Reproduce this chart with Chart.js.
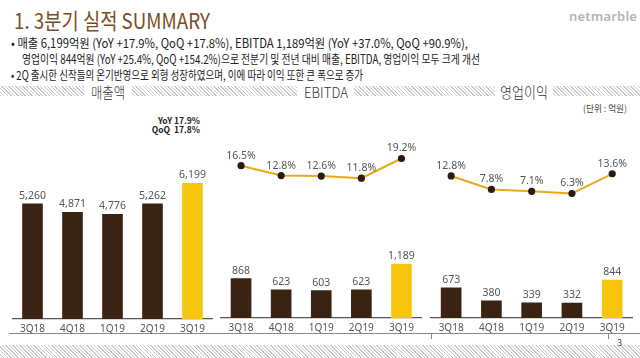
<!DOCTYPE html>
<html><head><meta charset="utf-8">
<script src="https://cdn.jsdelivr.net/npm/chart.js@4.4.1/dist/chart.umd.min.js"></script>
<style>
html,body{margin:0;padding:0;background:#fff;}
body{width:640px;height:358px;position:relative;overflow:hidden;font-family:"Noto Sans CJK KR","Noto Sans",sans-serif;}
.abs{position:absolute;white-space:nowrap;transform-origin:0 50%;}
#title{left:14px;top:4px;font-size:21.5px;color:#7c4d23;}
#logo{left:569px;top:7px;font-family:"Noto Sans",sans-serif;font-weight:600;font-size:13px;color:#b3b3b3;letter-spacing:0.2px;}
.bl{font-size:12.5px;color:#222;}
.band{position:absolute;left:0;width:640px;background:repeating-linear-gradient(45deg,#c9c9c9 0 1px,#fff 1px 2.5px);}
.hdb{position:absolute;top:84px;height:14px;background:#fff;}
.hd{font-size:14.5px;color:#333;line-height:18px;top:83px;font-weight:300;}
canvas{position:absolute;}
</style></head><body>
<div id="title" class="abs" data-w="196">1. 3분기 실적 SUMMARY</div>
<div id="logo" class="abs">netmarble</div>
<div class="abs bl" style="left:11px;top:33px;" data-w="457">• 매출 6,199억원 (YoY +17.9%, QoQ +17.8%), EBITDA 1,189억원 (YoY +37.0%, QoQ +90.9%),</div>
<div class="abs bl" style="left:22px;top:49px;" data-w="458">영업이익 844억원 (YoY +25.4%, QoQ +154.2%)으로 전분기 및 전년 대비 매출, EBITDA, 영업이익 모두 크게 개선</div>
<div class="abs bl" style="left:11px;top:65px;" data-w="352">• 2Q 출시한 신작들의 온기반영으로 외형 성장하였으며, 이에 따라 이익 또한 큰 폭으로 증가</div>
<div class="band" style="top:86px;height:10px;"></div>
<div class="band" style="top:345px;height:13px;"></div>
<div class="hdb" style="left:84px;width:48px;"></div>
<div class="hdb" style="left:297px;width:57px;"></div>
<div class="hdb" style="left:495px;width:58px;"></div>
<div class="abs hd" style="left:91px;" data-w="34">매출액</div>
<div class="abs hd" style="left:304px;" data-w="44">EBITDA</div>
<div class="abs hd" style="left:500px;" data-w="48">영업이익</div>
<div class="abs" style="left:583px;top:101px;font-size:9.5px;color:#444;" data-w="44">(단위 : 억원)</div>
<div class="abs" style="left:140px;top:116px;width:60px;text-align:right;font-size:8.5px;font-weight:bold;color:#222;line-height:9px;">YoY 17.9%<br>QoQ&nbsp; 17.8%</div>
<div class="abs" style="left:9px;top:333px;width:631px;height:1px;background:#888;"></div>
<div class="abs" style="left:431px;top:333px;width:1px;height:6px;background:#888;"></div>
<div class="abs" style="left:608px;top:333px;width:1px;height:6px;background:#888;"></div>
<div class="abs" style="left:617px;top:336px;font-size:9px;color:#444;">3</div>
<canvas id="c1" style="left:0;top:100px;" width="220" height="240"></canvas>
<canvas id="c2" style="left:215px;top:100px;" width="215" height="240"></canvas>
<canvas id="c3" style="left:425px;top:100px;" width="215" height="240"></canvas>
<script>
document.querySelectorAll("[data-w]").forEach(el=>{
  const w = el.getBoundingClientRect().width;
  el.style.transform = "scaleX(" + (parseFloat(el.dataset.w)/w) + ")";
});

const categories = ["3Q18","4Q18","1Q19","2Q19","3Q19"];
const revenue = [5260,4871,4776,5262,6199];
const ebitda = [868,623,603,623,1189];
const ebitdaMargin = [16.5,12.8,12.6,11.8,19.2];
const opIncome = [673,380,339,332,844];
const opMargin = [12.8,7.8,7.1,6.3,13.6];

const DARK = "#3a2313", YEL = "#f6c60e", LINE = "#eaa91c";
const barColors = categories.map((c,i)=> i===categories.length-1 ? YEL : DARK);

const labelPlugin = {
  id:"vals",
  afterDatasetsDraw(chart){
    const ctx = chart.ctx;
    ctx.save();
    ctx.font = '10.5px "Noto Sans","Noto Sans CJK KR",sans-serif';
    ctx.fillStyle = "#555";
    ctx.textAlign = "center";
    ctx.textBaseline = "middle";
    chart.data.datasets.forEach((ds,di)=>{
      const meta = chart.getDatasetMeta(di);
      meta.data.forEach((el,i)=>{
        const v = ds.data[i];
        const txt = ds.type==="line" ? v.toFixed(1)+"%" : v.toLocaleString("en-US");
        const off = ds.type==="line" ? 10 : 8;
        ctx.fillText(txt, el.x, el.y - off);
      });
    });
    ctx.restore();
  }
};

function make(id, bars, line, barMax, lineMin, lineMax, pad){
  const datasets = [];
  if(line){
    datasets.push({type:"line",data:line,yAxisID:"y1",borderColor:LINE,borderWidth:2,
      pointRadius:2.6,pointBackgroundColor:"#2a1a10",pointBorderColor:"#2a1a10",tension:0,order:0});
  }
  datasets.push({type:"bar",data:bars,yAxisID:"y",backgroundColor:barColors,barThickness:20,order:1});
  const scales = {
    x:{grid:{display:false,drawTicks:false},border:{display:true,color:"#555",width:1.2},
      ticks:{color:"#555",padding:4,font:{size:10,family:'"Noto Sans",sans-serif'}},
      afterFit(s){s.height=20;}},
    y:{display:false,min:0,max:barMax}
  };
  if(line) scales.y1 = {display:false,min:lineMin,max:lineMax};
  new Chart(document.getElementById(id),{
    data:{labels:categories,datasets},
    options:{responsive:false,animation:false,
      layout:{padding:pad},
      plugins:{legend:{display:false},tooltip:{enabled:false}},
      scales},
    plugins:[labelPlugin]
  });
}
make("c1", revenue, null, 10000, 0, 1, {left:12.5,right:7.5,top:0,bottom:1});
make("c2", ebitda, ebitdaMargin, 4678, -40.65, 38.9, {left:4,right:8.5,top:0,bottom:2});
make("c3", opIncome, opMargin, 4719, -39.75, 38.67, {left:3.6,right:7.65,top:0,bottom:2});
</script>
</body></html>
